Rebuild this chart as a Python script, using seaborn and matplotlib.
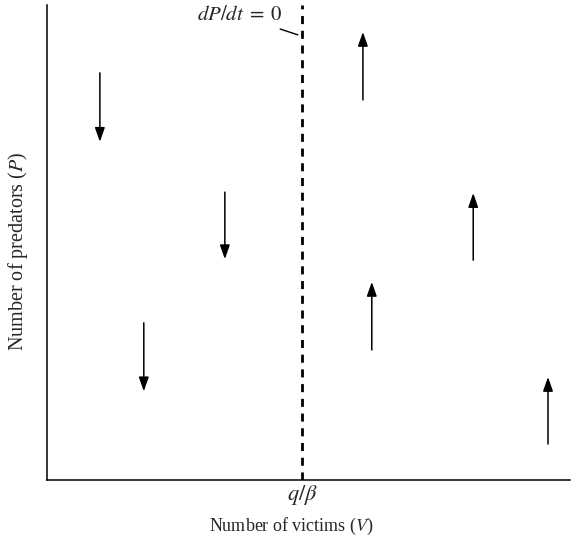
import matplotlib
matplotlib.use("Agg")
import matplotlib.pyplot as plt
import seaborn as sns
import pandas as pd

# isocline position (fraction of victims axis)
isocline_v = 0.4876

# arrows: x position, tail y, head y
arrow_x = [0.101, 0.340, 0.185, 0.604, 0.815, 0.621, 0.958]
arrow_y0 = [0.857, 0.606, 0.331, 0.800, 0.463, 0.274, 0.076]
arrow_y1 = [0.712, 0.465, 0.187, 0.943, 0.604, 0.417, 0.217]

sns.set_style("white")
plt.rcParams['font.family'] = ['Liberation Serif', 'DejaVu Serif']
plt.rcParams['mathtext.fontset'] = 'stix'

fig = plt.figure(figsize=(5.81, 5.45), dpi=100)
ax = fig.add_axes([0.081, 0.119, 0.900, 0.872])
ax.set_xlim(0, 1)
ax.set_ylim(0, 1)

# dashed zero isocline
iso = pd.DataFrame({'V': [isocline_v, isocline_v], 'P': [0, 1]})
sns.lineplot(data=iso, x='V', y='P', ax=ax, estimator=None, sort=False,
             color='black', linestyle=(0, (2.9, 2.4)), linewidth=2.0)

for x, y0, y1 in zip(arrow_x, arrow_y0, arrow_y1):
    ax.annotate('', xy=(x, y1), xytext=(x, y0),
                arrowprops=dict(arrowstyle='-|>,head_length=0.85,head_width=0.3',
                                color='black', lw=1.1, shrinkA=0, shrinkB=0))

# label for isocline
ax.annotate(r'$dP/dt\;=\;0$', xy=(isocline_v - 0.008, 0.937), xytext=(0.451, 0.977),
            ha='right', va='center', fontsize=15,
            arrowprops=dict(arrowstyle='-', color='black', lw=1.0, shrinkA=1, shrinkB=0))

ax.set_xticks([isocline_v])
ax.set_xticklabels([r'$q/\beta$'], fontsize=16)
ax.set_yticks([])
ax.tick_params(axis='x', length=0, pad=2)
ax.set_xlabel('Number of victims ($V$)', fontsize=13)
ax.set_ylabel('Number of predators ($P$)', fontsize=14.5)
ax.xaxis.set_label_coords(0.467, -0.076)
ax.yaxis.set_label_coords(-0.033, 0.482)

sns.despine(ax=ax)
for s in ['left', 'bottom']:
    ax.spines[s].set_color('black')
    ax.spines[s].set_linewidth(1.1)

fig.savefig('out.png', dpi=100)
